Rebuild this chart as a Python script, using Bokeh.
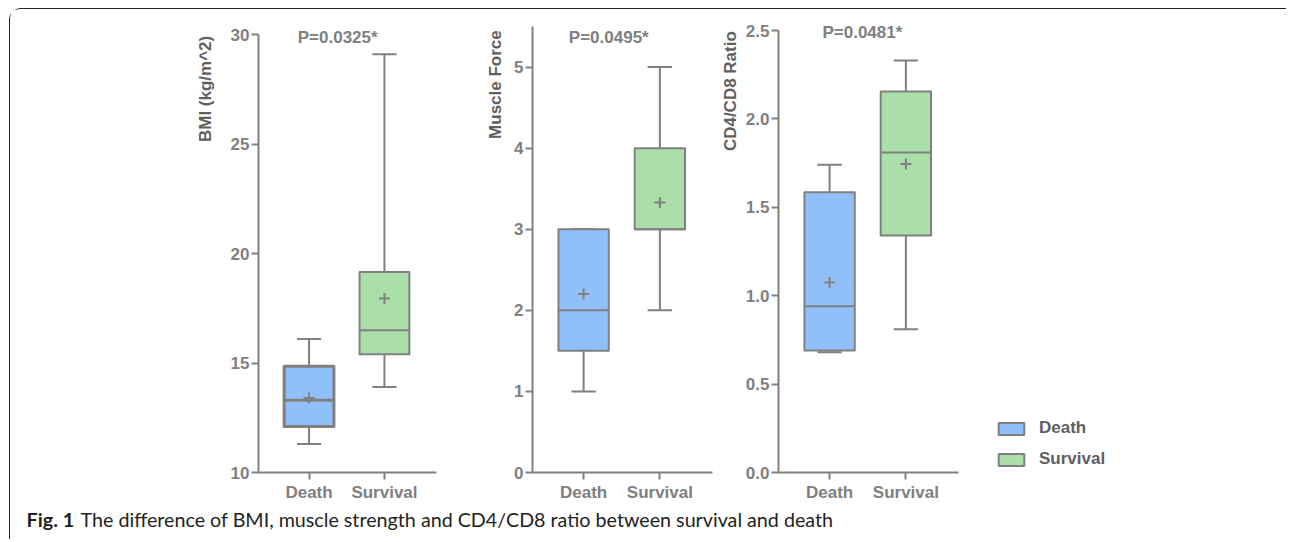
import math
from bokeh.plotting import figure
from bokeh.models import Range1d, FixedTicker, Label, Legend, LegendItem, ColumnDataSource, Spacer
from bokeh.layouts import row, column
from bokeh.embed import file_html
from bokeh.resources import INLINE

# ---------------- data ----------------
categories = ["Death", "Survival"]

bmi_min = [11.3, 13.9]
bmi_q1 = [12.1, 15.4]
bmi_median = [13.3, 16.5]
bmi_q3 = [14.85, 19.15]
bmi_max = [16.1, 29.1]
bmi_mean = [13.4, 17.95]
bmi_ticks = [10, 15, 20, 25, 30]
bmi_tick_labels = ["10", "15", "20", "25", "30"]
bmi_label = "BMI (kg/m^2)"
bmi_p = "P=0.0325*"

force_min = [1.0, 2.0]
force_q1 = [1.5, 3.0]
force_median = [2.0, 3.0]
force_q3 = [3.0, 4.0]
force_max = [3.0, 5.0]
force_mean = [2.2, 3.33]
force_ticks = [0, 1, 2, 3, 4, 5]
force_tick_labels = ["0", "1", "2", "3", "4", "5"]
force_label = "Muscle Force"
force_p = "P=0.0495*"

cd_min = [0.68, 0.81]
cd_q1 = [0.69, 1.34]
cd_median = [0.94, 1.81]
cd_q3 = [1.585, 2.155]
cd_max = [1.74, 2.33]
cd_mean = [1.075, 1.745]
cd_ticks = [0, 0.5, 1.0, 1.5, 2.0, 2.5]
cd_tick_labels = ["0.0", "0.5", "1.0", "1.5", "2.0", "2.5"]
cd_label = "CD4/CD8 Ratio"
cd_p = "P=0.0481*"

caption_bold = "Fig. 1"
caption_text = "The difference of BMI, muscle strength and CD4/CD8 ratio between survival and death"

# ---------------- style / layout ----------------
GREY = "#808080"
DARK = "#5f5f5f"
FILLS = ["#90BFF9", "#AADFAA"]
FONT = "Liberation Sans"
FS = "17px"
BOX_W = 0.66
CAP_W = 0.32
ROW_H = 495
FRAME_TOP = 5          # px from top of each panel figure to its frame top
AXIS_BOTTOM = 463      # px of the axis baseline inside each panel figure


def blank(width, height):
    f = figure(width=width, height=height, output_backend="svg", toolbar_location=None,
               x_range=Range1d(0, width), y_range=Range1d(0, height),
               x_axis_type=None, y_axis_type=None, min_border=0)
    f.outline_line_color = None
    f.grid.visible = False
    return f


def ylabel_fig(width, text, cx, top_px):
    f = blank(width, ROW_H)
    f.add_layout(Label(x=cx, y=ROW_H - top_px, text=text, angle=math.pi / 2,
                       text_align="right", text_baseline="middle", text_font=FONT,
                       text_font_style="bold", text_font_size=FS, text_color=DARK))
    return f


def panel(width, left, right, axis_top, axis_range, ticks, tick_labels,
          mn, q1, med, q3, mx, mean, ptext, pxy, lws):
    xs = [i + 1 for i in range(len(categories))]
    lo, hi = axis_range
    per_px = (hi - lo) / (AXIS_BOTTOM - axis_top)
    y_end = hi + (axis_top - FRAME_TOP) * per_px
    p = figure(width=width, height=ROW_H, output_backend="svg", toolbar_location=None,
               x_range=Range1d(0.33, 2.69), y_range=Range1d(lo, y_end),
               min_border_left=left, min_border_right=right,
               min_border_top=FRAME_TOP, min_border_bottom=ROW_H - AXIS_BOTTOM)
    p.outline_line_color = None
    p.grid.visible = False
    p.background_fill_color = "white"
    p.border_fill_color = "white"

    src = ColumnDataSource(dict(
        x=xs, mn=mn, q1=q1, med=med, q3=q3, mx=mx, mean=mean,
        xl=[x - BOX_W / 2 for x in xs], xr=[x + BOX_W / 2 for x in xs],
        cl=[x - CAP_W / 2 for x in xs], cr=[x + CAP_W / 2 for x in xs],
        color=FILLS, lw=lws,
    ))
    # whiskers
    p.segment(x0="x", y0="q3", x1="x", y1="mx", source=src, line_color=GREY, line_width=2)
    p.segment(x0="x", y0="q1", x1="x", y1="mn", source=src, line_color=GREY, line_width=2)
    p.segment(x0="cl", y0="mx", x1="cr", y1="mx", source=src, line_color=GREY, line_width=2)
    p.segment(x0="cl", y0="mn", x1="cr", y1="mn", source=src, line_color=GREY, line_width=2)
    # boxes
    p.vbar(x="x", top="q3", bottom="q1", width=BOX_W, source=src, fill_color="color",
           line_color=GREY, line_width="lw", line_join="round")
    p.segment(x0="xl", y0="med", x1="xr", y1="med", source=src, line_color=GREY, line_width="lw")
    p.scatter(x="x", y="mean", source=src, marker="cross", size=11, line_color=GREY, line_width=2)

    # axes
    xa = p.xaxis[0]
    xa.ticker = FixedTicker(ticks=xs)
    xa.major_label_overrides = {x: c for x, c in zip(xs, categories)}
    ya = p.yaxis[0]
    ya.ticker = FixedTicker(ticks=ticks)
    ya.major_label_overrides = {t: s for t, s in zip(ticks, tick_labels)}
    ya.bounds = (lo, hi)
    for ax in (xa, ya):
        ax.axis_line_color = GREY
        ax.axis_line_width = 2
        ax.major_tick_line_color = GREY
        ax.major_tick_line_width = 2
        ax.major_tick_out = 7
        ax.major_tick_in = 0
        ax.minor_tick_line_color = None
        ax.major_label_text_font = FONT
        ax.major_label_text_font_style = "bold"
        ax.major_label_text_font_size = FS
        ax.major_label_text_color = GREY
    xa.major_label_standoff = 3
    ya.major_label_standoff = 2

    p.add_layout(Label(x=pxy[0], y=pxy[1], text=ptext, text_align="center",
                       text_baseline="middle", text_font=FONT, text_font_style="bold",
                       text_font_size=FS, text_color=GREY))
    return p


l1 = ylabel_fig(210, bmi_label, 195, 23)
f1 = panel(254, 38, 38, 25, (10, 30), bmi_ticks, bmi_tick_labels,
           bmi_min, bmi_q1, bmi_median, bmi_q3, bmi_max, bmi_mean, bmi_p, (1.38, 29.85), [3, 2])
l2 = ylabel_fig(31, force_label, 21, 17)
f2 = panel(209, 27, 2, 17, (0, 5.5), force_ticks, force_tick_labels,
           force_min, force_q1, force_median, force_q3, force_max, force_mean, force_p, (1.33, 5.36), [2, 2])
l3 = ylabel_fig(28, cd_label, 16, 18)
f3 = panel(226, 36, 10, 21, (0, 2.5), cd_ticks, cd_tick_labels,
           cd_min, cd_q1, cd_median, cd_q3, cd_max, cd_mean, cd_p, (1.43, 2.487), [2, 2])

# ---------------- legend ----------------
lf = blank(318, ROW_H)
items = []
for c, col in zip(categories, FILLS):
    # swatch renderers with no visible bars: only their legend swatch shows
    r = lf.vbar(x=[1000], top=[1000], bottom=[999], width=1, fill_color=col, line_color=GREY,
                line_width=2)
    items.append(LegendItem(label=c, renderers=[r]))
leg = Legend(items=items, location=(27, 3), orientation="vertical",
             glyph_width=32, glyph_height=15, label_height=20, spacing=11, label_standoff=12,
             padding=0, margin=0, border_line_color=None, background_fill_alpha=0,
             label_text_font=FONT, label_text_font_style="bold", label_text_font_size=FS,
             label_text_color=DARK)
lf.add_layout(leg)

# ---------------- caption ----------------
CAP_H = 35
cap = blank(1276, CAP_H)
cap.add_layout(Label(x=16, y=20.5, text=caption_bold, text_font="Lato", text_font_style="bold",
                     text_font_size="19.8px", text_color="#231f20", text_baseline="middle"))
cap.add_layout(Label(x=70, y=20.5, text=caption_text, text_font="Lato",
                     text_font_size="19.7px", text_color="#231f20", text_baseline="middle"))

inner = column(row(l1, f1, l2, f2, l3, f3, lf), cap,
               styles={"border-top": "1.5px solid #222", "border-left": "1.5px solid #222",
                       "border-top-left-radius": "12px"})
layout = column(Spacer(height=8), row(Spacer(width=9), inner))

open("out.html", "w").write(file_html(layout, INLINE))
